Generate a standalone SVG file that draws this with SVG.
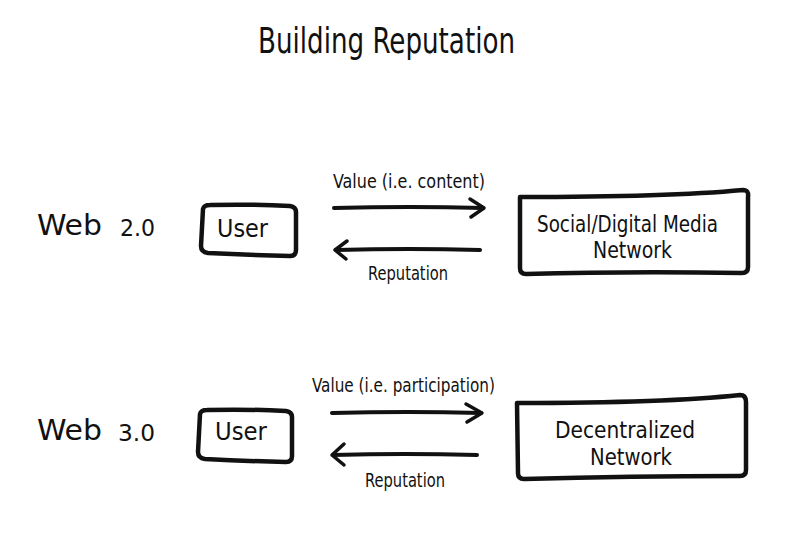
<svg xmlns="http://www.w3.org/2000/svg" width="800" height="535" viewBox="0 0 800 535">
  <defs>
    <style>
      .t { font-family: "Liberation Sans Narrow", "DejaVu Sans Condensed", "Liberation Sans", sans-serif; fill: #111; }
      .box { fill: none; stroke: #111; stroke-width: 4.5; stroke-linejoin: round; stroke-linecap: round; }
      .shaft { fill: none; stroke: #111; stroke-width: 4; stroke-linecap: round; }
      .head { fill: none; stroke: #111; stroke-width: 3.5; stroke-linecap: round; stroke-linejoin: round; }
    </style>
  </defs>
  <rect width="800" height="535" fill="#ffffff"/>

  <g id="title">
    <text class="t" x="258" y="53" font-size="36" textLength="257" lengthAdjust="spacingAndGlyphs">Building Reputation</text>
  </g>

  <g id="label-web2">
    <text class="t" x="37" y="235" font-size="28" textLength="65" lengthAdjust="spacingAndGlyphs">Web</text>
    <text class="t" x="120" y="236" font-size="23" textLength="35" lengthAdjust="spacingAndGlyphs">2.0</text>
  </g>

  <g id="label-web3">
    <text class="t" x="37" y="440" font-size="28" textLength="65" lengthAdjust="spacingAndGlyphs">Web</text>
    <text class="t" x="118" y="441" font-size="23" textLength="37" lengthAdjust="spacingAndGlyphs">3.0</text>
  </g>

  <g id="user1">
    <path class="box" d="M203,209 Q204,205 210,205 Q250,204 290,206 Q296,207 296,212 L296,250 Q296,256 290,256 Q248,255 208,253 Q201,252 201,246 Z"/>
    <text class="t" x="217" y="237" font-size="25" textLength="51" lengthAdjust="spacingAndGlyphs">User</text>
  </g>

  <g id="network2">
    <path class="box" d="M520,197 C600,197 690,195 743,190 Q749,190 748,197 L748,267 Q748,273 742,273 Q630,271 526,274 Q520,274 520,268 Z"/>
    <text class="t" x="537" y="232" font-size="23" textLength="181" lengthAdjust="spacingAndGlyphs">Social/Digital Media</text>
    <text class="t" x="593" y="258" font-size="23" textLength="79" lengthAdjust="spacingAndGlyphs">Network</text>
  </g>

  <g id="user2">
    <path class="box" d="M200,414 Q201,410 207,410 Q248,409 286,411 Q292,412 292,417 L292,456 Q292,462 286,462 Q244,461 205,459 Q198,458 198,452 Z"/>
    <text class="t" x="215" y="440" font-size="25" textLength="52" lengthAdjust="spacingAndGlyphs">User</text>
  </g>

  <g id="network3">
    <path class="box" d="M517,403 C600,403 685,401 740,395 Q746,395 746,402 L746,470 Q746,476 740,476 Q630,476 524,479 Q518,479 518,473 Z"/>
    <text class="t" x="555" y="438" font-size="23" textLength="140" lengthAdjust="spacingAndGlyphs">Decentralized</text>
    <text class="t" x="590" y="465" font-size="23" textLength="82" lengthAdjust="spacingAndGlyphs">Network</text>
  </g>

  <g id="connectors">
    <g id="web2-value">
      <path class="shaft" d="M334,208 Q410,206 483,208"/>
      <polyline class="head" points="470,199 484,208 471,217"/>
      <text class="t" x="333" y="188" font-size="19" textLength="152" lengthAdjust="spacingAndGlyphs">Value (i.e. content)</text>
    </g>
    <g id="web2-reputation">
      <path class="shaft" d="M480,250 Q410,248 336,250"/>
      <polyline class="head" points="347,241 335,250 346,259"/>
      <text class="t" x="368" y="280" font-size="19" textLength="80" lengthAdjust="spacingAndGlyphs">Reputation</text>
    </g>
    <g id="web3-value">
      <path class="shaft" d="M332,413 Q408,411 481,413"/>
      <polyline class="head" points="466,404 482,413 467,422"/>
      <text class="t" x="312" y="392" font-size="19" textLength="183" lengthAdjust="spacingAndGlyphs">Value (i.e. participation)</text>
    </g>
    <g id="web3-reputation">
      <path class="shaft" d="M477,455 Q405,453 333,455"/>
      <polyline class="head" points="344,444 332,455 344,465"/>
      <text class="t" x="365" y="487" font-size="19" textLength="80" lengthAdjust="spacingAndGlyphs">Reputation</text>
    </g>
  </g>
</svg>
